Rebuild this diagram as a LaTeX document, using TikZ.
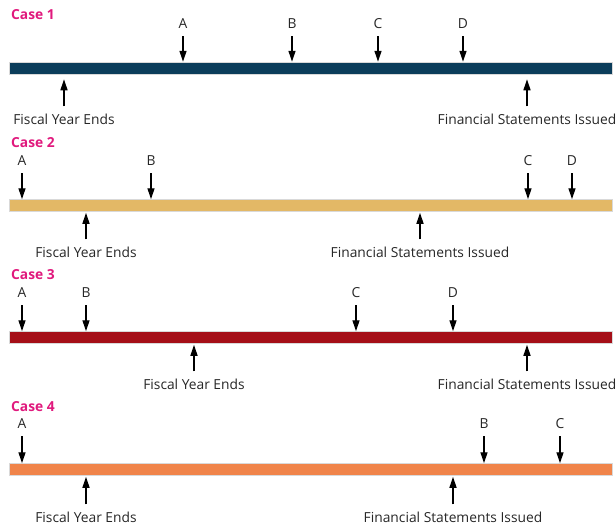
\documentclass[tikz,border=0pt]{standalone}
\usepackage{fontspec}
\setmainfont{Open Sans}
\usetikzlibrary{arrows.meta}
\definecolor{casepink}{HTML}{E0197D}
\definecolor{barnavy}{HTML}{0B3D5B}
\definecolor{bartan}{HTML}{E3B866}
\definecolor{barred}{HTML}{A50F18}
\definecolor{barorange}{HTML}{F0844A}
\begin{document}
\begin{tikzpicture}[x=1pt,y=-1pt,
		font=\fontsize{13.8}{16}\selectfont,
		bar/.style={draw=black!15,line width=.5pt,fill=#1,minimum width=603pt,minimum height=12pt,inner sep=0pt},
		casetitle/.style={anchor=west,inner sep=0pt,text=casepink,font=\fontsize{13.8}{16}\selectfont\bfseries},
		event/.style={inner sep=0pt,text=black!85},
		down/.style={-{Triangle[length=11pt,width=7pt]},line width=1.3pt,shorten <=7pt},
		up/.style={-{Triangle[length=11pt,width=7pt]},line width=1.3pt,shorten <=7pt,shorten >=1pt}]
		\useasboundingbox (0,0) rectangle (616,525);
		% case 1
		\node[casetitle] (case1) at (11,15) {Case 1};
		\node[bar=barnavy] (bar1) at (310.5,68) {};
		\foreach \x/\t in {183/A,292/B,378/C,463/D} {
			\node[event] (ev1\t) at (\x,24) {\t};
			\draw[down] (ev1\t) -- (ev1\t |- bar1.north);
		}
		\node[event] (fye1) at (64,119) {Fiscal Year Ends};
		\draw[up,shorten >=5pt] (fye1) -- (fye1 |- bar1.south);
		\node[event] (fsi1) at (527,119) {Financial Statements Issued};
		\draw[up,shorten >=5pt] (fsi1) -- (fsi1 |- bar1.south);
		% case 2
		\node[casetitle] (case2) at (11,143) {Case 2};
		\node[bar=bartan] (bar2) at (310.5,205.5) {};
		\foreach \x/\t in {22/A,151/B,528/C,572/D} {
			\node[event] (ev2\t) at (\x,161) {\t};
			\draw[down] (ev2\t) -- (ev2\t |- bar2.north);
		}
		\node[event] (fye2) at (86,252) {Fiscal Year Ends};
		\draw[up] (fye2) -- (fye2 |- bar2.south);
		\node[event] (fsi2) at (420,252) {Financial Statements Issued};
		\draw[up] (fsi2) -- (fsi2 |- bar2.south);
		% case 3
		\node[casetitle] (case3) at (11,275) {Case 3};
		\node[bar=barred] (bar3) at (310.5,337.5) {};
		\foreach \x/\t in {22/A,86/B,356/C,453/D} {
			\node[event] (ev3\t) at (\x,293) {\t};
			\draw[down] (ev3\t) -- (ev3\t |- bar3.north);
		}
		\node[event] (fye3) at (194,384) {Fiscal Year Ends};
		\draw[up] (fye3) -- (fye3 |- bar3.south);
		\node[event] (fsi3) at (527,384) {Financial Statements Issued};
		\draw[up] (fsi3) -- (fsi3 |- bar3.south);
		% case 4
		\node[casetitle] (case4) at (11,407) {Case 4};
		\node[bar=barorange] (bar4) at (310.5,469.5) {};
		\foreach \x/\t in {22/A,484/B,560/C} {
			\node[event] (ev4\t) at (\x,424) {\t};
			\draw[down] (ev4\t) -- (ev4\t |- bar4.north);
		}
		\node[event] (fye4) at (86,517) {Fiscal Year Ends};
		\draw[up] (fye4) -- (fye4 |- bar4.south);
		\node[event] (fsi4) at (453,517) {Financial Statements Issued};
		\draw[up] (fsi4) -- (fsi4 |- bar4.south);
	\end{tikzpicture}
\end{document}
